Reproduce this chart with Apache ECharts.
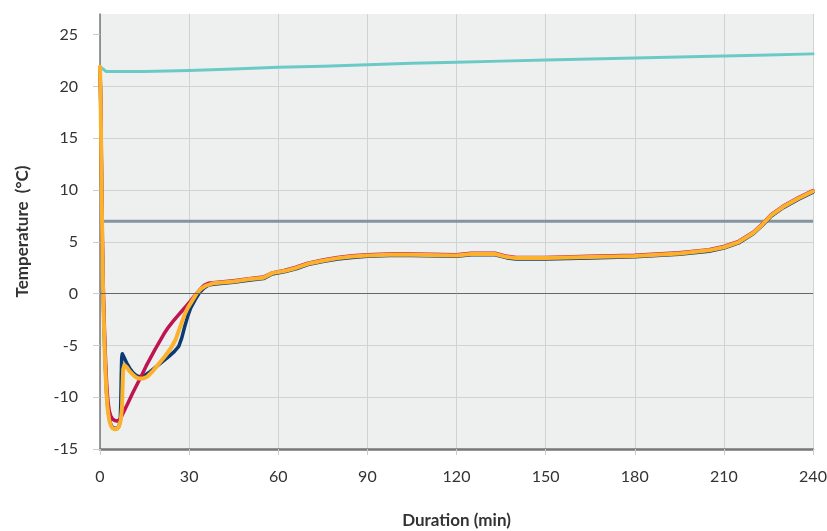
<!DOCTYPE html>
<html>
<head>
<meta charset="utf-8">
<script src="https://cdn.jsdelivr.net/npm/echarts@6/dist/echarts.min.js"></script>
<style>html,body{margin:0;padding:0;background:#fff}#c{width:827px;height:531px}</style>
</head>
<body>
<div id="c"></div>
<script>
const xTicks = [0, 30, 60, 90, 120, 150, 180, 210, 240];
const yTicks = [-15, -10, -5, 0, 5, 10, 15, 20, 25];
const limitValue = 7;

const ambient = [[0,21.9],[1,21.7],[2,21.45],[5,21.45],[15,21.45],[30,21.55],[45,21.7],[60,21.85],[75,21.95],[90,22.1],[105,22.25],[120,22.35],[135,22.45],[150,22.55],[165,22.65],[180,22.75],[195,22.85],[210,22.95],[225,23.05],[240,23.15]];

const navy = [[0,21.8],[0.2,19],[0.4,14],[0.6,9],[0.8,4.5],[1.0,1],[1.2,-1.5],[1.5,-4.5],[1.8,-7],[2.2,-9.5],[2.6,-11],[3.1,-12],[3.6,-12.6],[4.2,-12.9],[5,-13.0],[5.8,-13.0],[6.4,-12.8],[6.8,-12.3],[7.0,-10.5],[7.15,-8],[7.3,-6.2],[7.5,-5.8],[8,-6.1],[9,-6.7],[10,-7.2],[11,-7.6],[12,-7.85],[13,-8.0],[14,-8.0],[15,-7.9],[17,-7.5],[20,-6.8],[23,-6.1],[25,-5.6],[26.5,-5.1],[27.5,-4.3],[28.5,-3.2],[29.5,-2.2],[30.5,-1.4],[32,-0.6],[33.5,0.1],[35,0.55],[36.5,0.8],[38,0.9],[45,1.1],[50,1.3],[55,1.45],[58,1.9],[62,2.1],[66,2.4],[70,2.8],[75,3.1],[80,3.35],[85,3.5],[90,3.6],[100,3.7],[110,3.65],[120,3.6],[125,3.75],[133,3.75],[137,3.45],[140,3.35],[150,3.35],[165,3.45],[180,3.55],[195,3.8],[205,4.1],[210,4.4],[215,4.9],[220,5.8],[223,6.6],[226,7.5],[230,8.3],[235,9.1],[240,9.8]];

const crimson = [[0,21.8],[0.2,19.5],[0.4,15],[0.6,10],[0.8,5.5],[1.0,2],[1.2,-0.5],[1.5,-3.5],[1.8,-6],[2.2,-8.5],[2.6,-10.2],[3.1,-11.3],[3.6,-11.8],[4.2,-12.1],[5,-12.25],[5.8,-12.3],[6.5,-12.2],[7.2,-11.9],[8,-11.4],[9.5,-10.5],[11,-9.6],[12.5,-8.75],[14,-7.9],[15.5,-7.0],[17,-6.2],[18.5,-5.4],[20,-4.65],[21.5,-3.9],[23,-3.25],[24.5,-2.7],[26,-2.2],[27.5,-1.7],[29,-1.2],[30.5,-0.7],[32,-0.15],[33.5,0.35],[35,0.8],[36.5,1.0],[38,1.05],[45,1.25],[50,1.45],[55,1.6],[58,2.0],[62,2.25],[66,2.55],[70,2.95],[75,3.25],[80,3.5],[85,3.65],[90,3.75],[100,3.85],[110,3.8],[120,3.75],[125,3.9],[133,3.9],[137,3.6],[140,3.5],[150,3.5],[165,3.6],[180,3.7],[195,3.95],[205,4.25],[210,4.55],[215,5.05],[220,5.95],[223,6.75],[226,7.65],[230,8.45],[235,9.25],[240,9.95]];

const orange = [[0,21.9],[0.2,19],[0.4,14],[0.6,9],[0.8,4.5],[1.0,0.8],[1.2,-1.8],[1.5,-4.8],[1.8,-7.3],[2.2,-9.7],[2.6,-11.2],[3.1,-12.2],[3.6,-12.7],[4.2,-13.0],[5,-13.1],[5.8,-13.05],[6.4,-12.8],[7,-12.2],[7.4,-11],[7.6,-9],[7.8,-7.3],[8.2,-6.9],[9,-7.1],[10,-7.5],[11,-7.8],[12,-8.05],[13,-8.2],[14.5,-8.2],[16,-8.0],[18,-7.4],[20,-6.7],[22,-6.0],[24,-5.2],[25.5,-4.4],[26.5,-3.6],[27.5,-2.8],[28.5,-2.0],[29.5,-1.4],[31,-0.7],[32.5,0],[34,0.45],[35.5,0.75],[37,0.9],[38,1.0],[45,1.18],[50,1.38],[55,1.53],[58,1.98],[62,2.18],[66,2.48],[70,2.88],[75,3.18],[80,3.43],[85,3.58],[90,3.68],[100,3.78],[110,3.73],[120,3.68],[125,3.83],[133,3.83],[137,3.53],[140,3.43],[150,3.43],[165,3.53],[180,3.63],[195,3.88],[205,4.18],[210,4.48],[215,4.98],[220,5.88],[223,6.68],[226,7.58],[230,8.38],[235,9.18],[240,9.88]];

const FONT = 'Lato';
const chart = echarts.init(document.getElementById('c'), null, {renderer: 'canvas'});
const lineSeries = (data, color, width) => ({
  type: 'line', data, showSymbol: false, smooth: false,
  lineStyle: {color, width, join: 'round', cap: 'round'}, itemStyle: {color}, silent: true
});
chart.setOption({
  animation: false,
  grid: {left: 100, right: 14, top: 14, bottom: 82, show: true, backgroundColor: '#eef0f0', borderWidth: 0, outerBoundsMode: 'none', containLabel: false},
  xAxis: {
    type: 'value', min: 0, max: 240, interval: 30,
    name: 'Duration (min)', nameLocation: 'middle', nameGap: 63,
    nameTextStyle: {fontFamily: FONT, fontSize: 17, fontWeight: 'bold', color: '#333'},
    axisLine: {show: true, onZero: false, lineStyle: {color: '#777', width: 2.5}},
    axisTick: {show: true, length: 6, lineStyle: {color: '#c8cccc'}},
    axisLabel: {fontFamily: FONT, fontSize: 16, color: '#333', margin: 20, customValues: xTicks},
    splitLine: {show: true, lineStyle: {color: '#cfd3d3', width: 1}}
  },
  yAxis: {
    type: 'value', min: -15, max: 27, interval: 5,
    name: 'Temperature  (°C)', nameLocation: 'middle', nameGap: 69,
    nameTextStyle: {fontFamily: FONT, fontSize: 17, fontWeight: 'bold', color: '#333'},
    axisLine: {show: true, lineStyle: {color: '#777', width: 1.5}},
    axisTick: {show: true, length: 7, lineStyle: {color: '#c8cccc'}, customValues: yTicks},
    axisLabel: {fontFamily: FONT, fontSize: 16, color: '#333', margin: 22, customValues: yTicks},
    splitLine: {show: true, showMaxLine: false, lineStyle: {color: '#cfd3d3', width: 1}}
  },
  series: [
    lineSeries(ambient, '#6ccac6', 3),
    {
      type: 'line', data: [[0, limitValue], [240, limitValue]], showSymbol: false, silent: true,
      lineStyle: {color: '#8595a0', width: 3}, itemStyle: {color: '#8595a0'},
      markLine: {silent: true, symbol: 'none', label: {show: false},
        lineStyle: {color: '#666', width: 1, type: 'solid'}, data: [{yAxis: 0}]}
    },
    lineSeries(navy, '#0c3b73', 3.5),
    lineSeries(crimson, '#be1450', 3.5),
    lineSeries(orange, '#fbb12c', 4)
  ]
});
</script>
</body>
</html>
